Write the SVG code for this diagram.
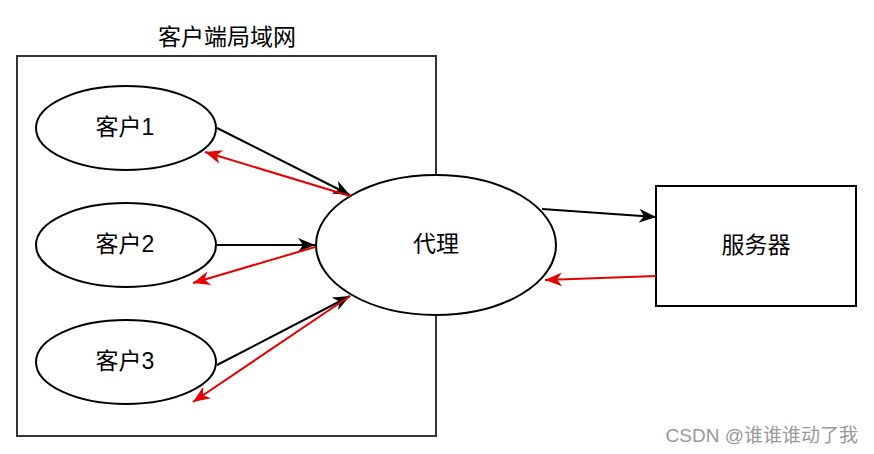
<svg xmlns="http://www.w3.org/2000/svg" width="874" height="454" viewBox="0 0 874 454">
<style>
.shape{fill:#fff;stroke:#000;stroke-width:2}
.lbl{font-family:"Liberation Sans","Noto Sans CJK SC",sans-serif;font-size:23px;fill:#000;text-anchor:middle;dominant-baseline:central}
.wm{font-family:"Liberation Sans","Noto Sans CJK SC",sans-serif;font-size:19px;fill:#999;text-anchor:end}
.blk{stroke:#000;stroke-width:2;fill:none}
.red{stroke:#e60000;stroke-width:2;fill:none}
</style>
<defs>
<marker id="ab" viewBox="0 0 18 18" refX="17" refY="9" markerWidth="18" markerHeight="18" orient="auto" markerUnits="userSpaceOnUse">
<path d="M0,2 L17,9 L0,16 L5,9 Z" fill="#000"/>
</marker>
<marker id="ar" viewBox="0 0 18 18" refX="17" refY="9" markerWidth="18" markerHeight="18" orient="auto" markerUnits="userSpaceOnUse">
<path d="M0,2 L17,9 L0,16 L5,9 Z" fill="#e60000"/>
</marker>
</defs>
<rect width="874" height="454" fill="#fff"/>
<g id="lan">
<rect x="17" y="56" width="419" height="380" fill="none" stroke="#333" stroke-width="2"/>
<text class="lbl" x="227" y="37">客户端局域网</text>
</g>
<g id="client1"><ellipse class="shape" cx="126" cy="128" rx="90" ry="42"/><text class="lbl" x="125" y="127">客户1</text></g>
<g id="client2"><ellipse class="shape" cx="126" cy="245" rx="90" ry="42"/><text class="lbl" x="125" y="244">客户2</text></g>
<g id="client3"><ellipse class="shape" cx="126" cy="362" rx="90" ry="42"/><text class="lbl" x="125" y="361">客户3</text></g>
<g id="proxy"><ellipse class="shape" cx="436" cy="245" rx="120" ry="70"/><text class="lbl" x="436" y="244">代理</text></g>
<g id="server"><rect class="shape" x="656" y="186" width="200" height="120"/><text class="lbl" x="756" y="245">服务器</text></g>
<g id="connectors">
<line class="blk" x1="217" y1="128" x2="350" y2="195" marker-end="url(#ab)"/>
<line class="red" x1="350" y1="196" x2="205" y2="152" marker-end="url(#ar)"/>
<line class="blk" x1="217" y1="245" x2="315" y2="245" marker-end="url(#ab)"/>
<line class="red" x1="315" y1="247" x2="193" y2="283" marker-end="url(#ar)"/>
<line class="blk" x1="217" y1="365" x2="350" y2="296" marker-end="url(#ab)"/>
<line class="red" x1="350" y1="296" x2="193" y2="402" marker-end="url(#ar)"/>
<line class="blk" x1="542" y1="209" x2="656" y2="217" marker-end="url(#ab)"/>
<line class="red" x1="656" y1="276" x2="545" y2="280" marker-end="url(#ar)"/>
</g>
<text class="wm" x="858" y="442">CSDN @谁谁谁动了我</text>
</svg>
